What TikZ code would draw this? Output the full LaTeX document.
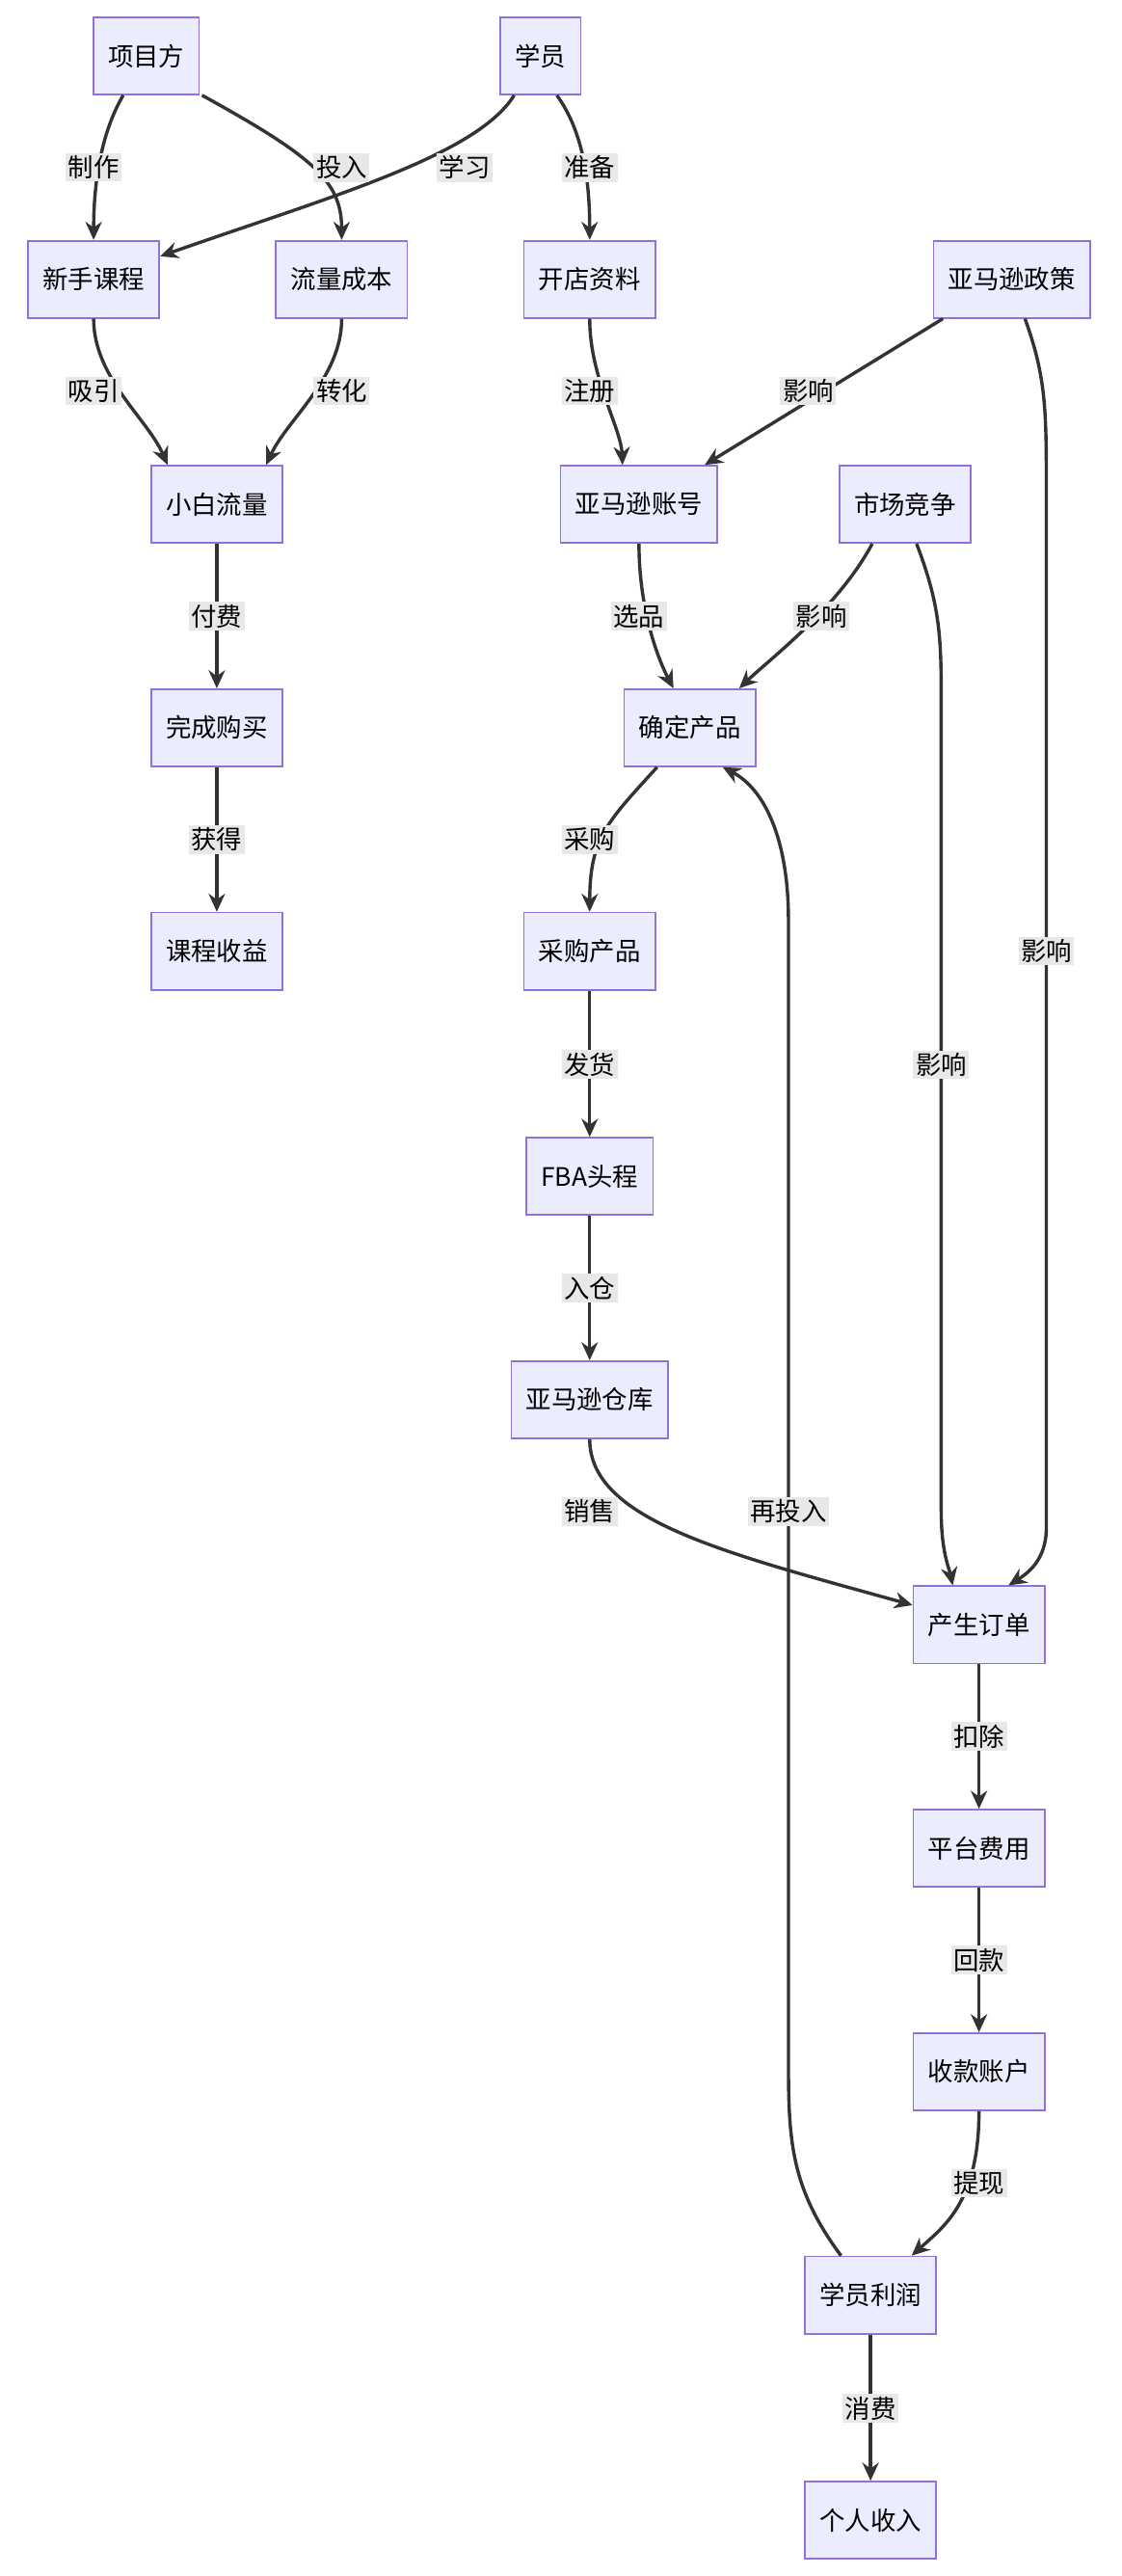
\documentclass[tikz,border=0pt]{standalone}
\usepackage{fontspec}
\setmainfont{Noto Sans CJK SC}
\usetikzlibrary{arrows.meta}
\begin{document}
\begin{tikzpicture}[x=1pt,y=-1pt,
  box/.style={draw=#1,fill=boxfill,line width=1pt,minimum height=47pt,inner xsep=9pt,font=\fontsize{15.5}{18}\selectfont},
  box/.default={boxline},
  e/.style={draw=edge,line width=2pt,-{Stealth[length=11pt,width=10pt]}},
  lbl/.style={fill=lblbg,inner sep=1.5pt,font=\fontsize{15.5}{18}\selectfont,text=black}]
\definecolor{boxfill}{HTML}{ECECFF}
\definecolor{boxline}{HTML}{9370DB}
\definecolor{edge}{HTML}{333333}
\definecolor{lblbg}{HTML}{E8E8E8}
\useasboundingbox (0,0) rectangle (683,1568);
\node[box] (xmf) at (89,34) {项目方};
\node[box] (xy) at (329,34) {学员};
\node[box] (xsk) at (57,170) {新手课程};
\node[box] (llcb) at (208,170) {流量成本};
\node[box] (kdzl) at (359,170) {开店资料};
\node[box] (zc) at (616,170) {亚马逊政策};
\node[box] (xbll) at (132,307) {小白流量};
\node[box] (zh) at (389,307) {亚马逊账号};
\node[box] (jz) at (551,307) {市场竞争};
\node[box] (wcgm) at (132,443) {完成购买};
\node[box] (qd) at (420,443) {确定产品};
\node[box] (kcsy) at (132,579) {课程收益};
\node[box] (cg) at (359,579) {采购产品};
\node[box] (fba) at (359,716) {FBA头程};
\node[box] (ck) at (359,852) {亚马逊仓库};
\node[box] (dd) at (596,989) {产生订单};
\node[box] (pt) at (596,1125) {平台费用};
\node[box] (sk) at (596,1261) {收款账户};
\node[box] (lr) at (530,1397) {学员利润};
\node[box] (gr) at (530,1534) {个人收入};

\draw[e] ([xshift=-14pt]xmf.south) .. controls (62,80) and (57,110) .. (xsk.north);
\draw[e] ([xshift=34pt]xmf.south) .. controls (190,95) and (208,110) .. (llcb.north);
\draw[e] ([xshift=-16pt]xy.south) .. controls (290,95) and (200,120) .. ([yshift=-10pt]xsk.north east);
\draw[e] ([xshift=10pt]xy.south) .. controls (355,80) and (359,110) .. (kdzl.north);
\draw[e] (xsk.south) .. controls (57,230) and (90,255) .. ([xshift=-30pt]xbll.north);
\draw[e] (llcb.south) .. controls (208,230) and (175,255) .. ([xshift=30pt]xbll.north);
\draw[e] (kdzl.south) .. controls (359,230) and (378,260) .. ([xshift=-10pt]zh.north);
\draw[e] ([xshift=-42pt]zc.south) -- ([xshift=40pt]zh.north);
\draw[e] ([xshift=8pt]zc.south) .. controls (637,230) and (637,250) .. (637,300) -- (637,930) .. controls (637,950) and (625,958) .. ([xshift=18pt]dd.north);
\draw[e] (xbll) -- (wcgm);
\draw[e] (zh.south) .. controls (389,370) and (400,400) .. ([xshift=-10pt]qd.north);
\draw[e] ([xshift=-20pt]jz.south) .. controls (510,370) and (470,400) .. ([xshift=30pt]qd.north);
\draw[e] ([xshift=7pt]jz.south) .. controls (573,370) and (573,390) .. (573,430) -- (573,920) .. controls (573,945) and (578,955) .. ([xshift=-16pt]dd.north);
\draw[e] (wcgm) -- (kcsy);
\draw[e] ([xshift=-20pt]qd.south) .. controls (370,500) and (359,510) .. (cg.north);
\draw[e] (cg) -- (fba);
\draw[e] (fba) -- (ck);
\draw[e] (ck.south) .. controls (359,925) and (440,945) .. ([yshift=12pt]dd.west);
\draw[e] ([xshift=-18pt]lr.north) .. controls (480,1330) and (480,1300) .. (480,1250) -- (480,560) .. controls (480,510) and (465,480) .. ([xshift=20pt]qd.south);
\draw[e] (dd) -- (pt);
\draw[e] (pt) -- (sk);
\draw[e] (sk.south) .. controls (596,1340) and (575,1355) .. ([xshift=25pt]lr.north);
\draw[e] (lr) -- (gr);

\node[lbl] (l1) at (57,102) {制作};
\node[lbl] (l2) at (208,102) {投入};
\node[lbl] (l3) at (283,102) {学习};
\node[lbl] (l4) at (359,102) {准备};
\node[lbl] (l5) at (57,238) {吸引};
\node[lbl] (l6) at (208,238) {转化};
\node[lbl] (l7) at (359,238) {注册};
\node[lbl] (l8) at (492,238) {影响};
\node[lbl] (l9) at (637,579) {影响};
\node[lbl] (l10) at (132,375) {付费};
\node[lbl] (l11) at (389,375) {选品};
\node[lbl] (l12) at (500,375) {影响};
\node[lbl] (l13) at (573,648) {影响};
\node[lbl] (l14) at (132,511) {获得};
\node[lbl] (l15) at (359,511) {采购};
\node[lbl] (l16) at (359,648) {发货};
\node[lbl] (l17) at (359,784) {入仓};
\node[lbl] (l18) at (359,920) {销售};
\node[lbl] (l19) at (480,920) {再投入};
\node[lbl] (l20) at (596,1057) {扣除};
\node[lbl] (l21) at (596,1193) {回款};
\node[lbl] (l22) at (596,1329) {提现};
\node[lbl] (l23) at (530,1466) {消费};
\end{tikzpicture}
\end{document}
